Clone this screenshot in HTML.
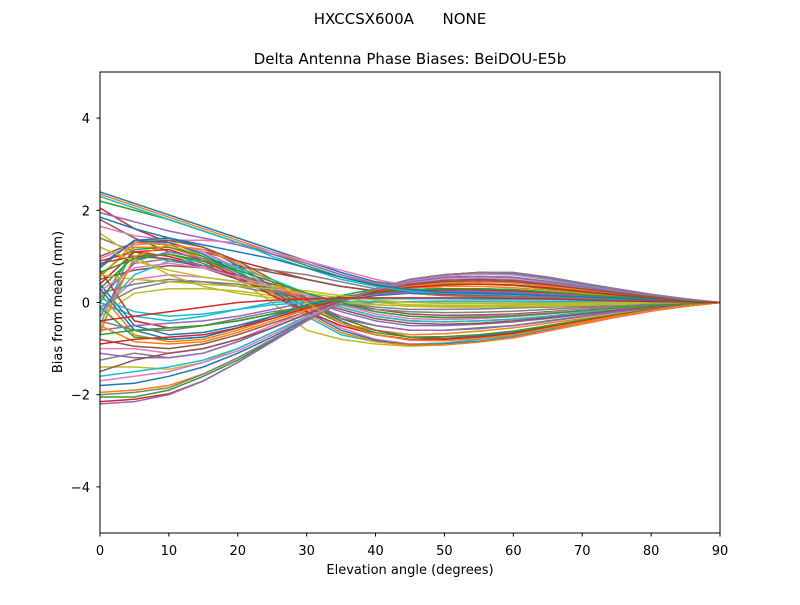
<!DOCTYPE html>
<html><head><meta charset="utf-8"><style>
body{margin:0;background:#fff;font-family:"Liberation Sans","DejaVu Sans",sans-serif}
svg text{font-family:"DejaVu Sans","Liberation Sans",sans-serif;font-size:13px;fill:#000;white-space:pre}
</style></head><body>
<svg id="chart" width="800" height="600" viewBox="0 0 800 600">
<text x="400" y="24" text-anchor="middle" style="font-size:15px">HXCCSX600A&#160;&#160;&#160;&#160;&#160;&#160;NONE</text>
<text x="410" y="64" text-anchor="middle" style="font-size:15px">Delta Antenna Phase Biases: BeiDOU-E5b</text>
<g id="lines"></g>
<rect x="100" y="72" width="620" height="461" fill="none" stroke="#000" stroke-width="1"/>
<g id="axes"></g>
<text x="410" y="574" text-anchor="middle">Elevation angle (degrees)</text>
<text transform="translate(62,302) rotate(-90)" text-anchor="middle">Bias from mean (mm)</text>
</svg>
<script>
const elevations=[0,5,10,15,20,25,30,35,40,45,50,55,60,65,70,75,80,85,90];
const xTicks=[0,10,20,30,40,50,60,70,80,90];
const yTicks=[-4,-2,0,2,4];
const yTickLabels=["\u22124","\u22122","0","2","4"];
const series=[
[2.4,2.15,1.9,1.65,1.4,1.15,0.9,0.65,0.45,0.35,0.3,0.28,0.25,0.22,0.18,0.12,0.08,0.04,0],
[2.35,2.1,1.85,1.6,1.35,1.1,0.85,0.6,0.42,0.3,0.25,0.22,0.2,0.17,0.14,0.1,0.06,0.03,0],
[2.2,2.0,1.8,1.55,1.3,1.05,0.8,0.55,0.38,0.28,0.22,0.2,0.18,0.15,0.12,0.09,0.06,0.03,0],
[2.05,1.6,1.3,1.1,0.9,0.7,0.5,0.35,0.25,0.2,0.18,0.16,0.15,0.13,0.1,0.08,0.05,0.02,0],
[1.95,1.75,1.55,1.4,1.25,1.05,0.85,0.6,0.4,0.3,0.25,0.22,0.2,0.17,0.14,0.1,0.06,0.03,0],
[1.8,1.4,1.1,0.95,0.8,0.65,0.5,0.35,0.25,0.2,0.15,0.13,0.12,0.1,0.08,0.06,0.04,0.02,0],
[1.65,1.45,1.35,1.35,1.3,1.1,0.9,0.7,0.5,0.35,0.3,0.27,0.25,0.22,0.18,0.12,0.08,0.04,0],
[1.4,1.1,0.9,0.8,0.75,0.7,0.6,0.45,0.3,0.2,0.15,0.13,0.12,0.1,0.08,0.06,0.04,0.02,0],
[-0.7,1.35,1.35,1.0,0.5,0.0,-0.6,-0.8,-0.9,-0.95,-0.92,-0.85,-0.75,-0.6,-0.45,-0.3,-0.18,-0.08,0],
[-0.5,1.3,1.3,1.1,0.7,0.2,-0.3,-0.7,-0.85,-0.9,-0.88,-0.8,-0.72,-0.58,-0.44,-0.3,-0.18,-0.08,0],
[0.8,1.35,1.4,1.2,0.8,0.35,0.0,-0.4,-0.7,-0.8,-0.78,-0.72,-0.65,-0.52,-0.4,-0.28,-0.16,-0.07,0],
[0.6,1.2,1.2,0.95,0.6,0.25,-0.1,-0.45,-0.6,-0.7,-0.68,-0.62,-0.55,-0.45,-0.35,-0.25,-0.15,-0.06,0],
[0.3,1.0,1.05,0.85,0.5,0.2,0.0,-0.35,-0.5,-0.6,-0.6,-0.55,-0.5,-0.4,-0.3,-0.2,-0.12,-0.05,0],
[0.9,1.1,1.0,0.8,0.55,0.3,0.1,-0.1,-0.3,-0.4,-0.42,-0.4,-0.36,-0.3,-0.22,-0.15,-0.09,-0.04,0],
[0.1,0.85,0.95,0.8,0.55,0.3,0.05,-0.2,-0.4,-0.5,-0.5,-0.47,-0.42,-0.35,-0.26,-0.18,-0.1,-0.05,0],
[0.5,0.7,0.8,0.75,0.6,0.4,0.2,0.0,-0.15,-0.25,-0.28,-0.27,-0.25,-0.2,-0.15,-0.1,-0.06,-0.03,0],
[-0.2,0.5,0.6,0.55,0.45,0.3,0.15,-0.05,-0.2,-0.3,-0.32,-0.3,-0.27,-0.22,-0.16,-0.11,-0.06,-0.03,0],
[0.2,0.4,0.5,0.45,0.35,0.2,0.1,0.0,-0.1,-0.15,-0.15,-0.14,-0.12,-0.1,-0.08,-0.05,-0.03,-0.01,0],
[-0.3,0.2,0.3,0.3,0.25,0.15,0.05,0.0,-0.05,-0.08,-0.08,-0.07,-0.06,-0.05,-0.04,-0.03,-0.02,-0.01,0],
[0.0,-0.3,-0.4,-0.3,-0.15,0.0,0.05,0.08,0.08,0.08,0.08,0.07,0.07,0.06,0.05,0.04,0.02,0.01,0],
[0.4,-0.5,-0.7,-0.65,-0.5,-0.3,-0.1,0.05,0.15,0.2,0.22,0.22,0.2,0.17,0.13,0.09,0.05,0.02,0],
[0.2,-0.7,-0.85,-0.8,-0.6,-0.35,-0.1,0.1,0.25,0.32,0.35,0.35,0.32,0.27,0.2,0.14,0.08,0.03,0],
[-0.1,-0.75,-0.8,-0.75,-0.55,-0.3,-0.05,0.15,0.3,0.38,0.4,0.4,0.37,0.3,0.23,0.16,0.09,0.04,0],
[0.7,-0.4,-0.55,-0.5,-0.4,-0.25,-0.05,0.1,0.2,0.25,0.28,0.27,0.25,0.21,0.16,0.11,0.06,0.03,0],
[-0.6,-0.5,-0.45,-0.4,-0.3,-0.15,0.0,0.1,0.18,0.22,0.24,0.24,0.22,0.18,0.14,0.1,0.06,0.02,0],
[-0.8,-0.95,-1.0,-0.9,-0.7,-0.45,-0.2,0.05,0.25,0.38,0.45,0.47,0.45,0.38,0.29,0.2,0.12,0.05,0],
[-1.0,-1.0,-1.1,-1.0,-0.8,-0.5,-0.2,0.05,0.28,0.42,0.5,0.52,0.5,0.42,0.32,0.22,0.13,0.05,0],
[-1.25,-1.1,-1.2,-1.1,-0.85,-0.55,-0.25,0.05,0.3,0.45,0.55,0.57,0.55,0.46,0.35,0.24,0.14,0.06,0],
[-1.4,-1.4,-1.45,-1.3,-1.0,-0.65,-0.3,0.02,0.3,0.48,0.58,0.62,0.6,0.5,0.38,0.26,0.15,0.06,0],
[-1.6,-1.5,-1.4,-1.25,-1.0,-0.65,-0.3,0.02,0.3,0.48,0.58,0.62,0.6,0.5,0.38,0.26,0.15,0.06,0],
[-1.8,-1.75,-1.6,-1.4,-1.1,-0.75,-0.35,0.0,0.3,0.5,0.6,0.64,0.62,0.52,0.39,0.27,0.16,0.07,0],
[-1.95,-1.9,-1.8,-1.55,-1.2,-0.8,-0.38,0.0,0.3,0.5,0.6,0.65,0.63,0.53,0.4,0.28,0.16,0.07,0],
[-2.05,-2.05,-1.9,-1.6,-1.25,-0.82,-0.4,0.0,0.3,0.5,0.6,0.65,0.64,0.54,0.41,0.28,0.17,0.07,0],
[-2.15,-2.1,-1.98,-1.7,-1.3,-0.85,-0.4,0.0,0.3,0.5,0.6,0.65,0.65,0.55,0.42,0.29,0.17,0.07,0],
[-2.2,-2.15,-2.0,-1.7,-1.3,-0.85,-0.4,0.0,0.3,0.5,0.6,0.65,0.65,0.55,0.42,0.3,0.18,0.08,0],
[1.0,1.3,1.35,1.2,0.9,0.5,0.1,-0.35,-0.6,-0.75,-0.78,-0.75,-0.68,-0.55,-0.42,-0.29,-0.17,-0.07,0],
[0.95,1.25,1.3,1.1,0.75,0.3,-0.15,-0.55,-0.8,-0.9,-0.9,-0.85,-0.77,-0.62,-0.47,-0.32,-0.19,-0.08,0],
[-0.4,-0.6,-0.6,-0.5,-0.35,-0.2,-0.1,-0.05,0.0,0.02,0.03,0.03,0.03,0.02,0.02,0.01,0.01,0,0],
[1.5,1.0,0.6,0.35,0.2,0.1,0.05,0.0,-0.05,-0.08,-0.1,-0.1,-0.09,-0.08,-0.06,-0.04,-0.03,-0.01,0],
[-0.2,0.6,0.9,0.9,0.75,0.5,0.2,-0.1,-0.3,-0.4,-0.42,-0.4,-0.36,-0.3,-0.22,-0.15,-0.09,-0.04,0],
[0.75,1.35,1.3,1.05,0.65,0.25,-0.2,-0.6,-0.82,-0.92,-0.9,-0.84,-0.75,-0.6,-0.46,-0.31,-0.18,-0.08,0],
[0.55,1.3,1.25,1.0,0.6,0.2,-0.25,-0.65,-0.85,-0.93,-0.92,-0.86,-0.76,-0.61,-0.46,-0.31,-0.18,-0.08,0],
[0.0,1.15,1.2,1.0,0.65,0.3,-0.1,-0.45,-0.65,-0.75,-0.74,-0.7,-0.62,-0.5,-0.38,-0.26,-0.15,-0.06,0],
[0.4,1.1,1.15,0.9,0.55,0.15,-0.2,-0.5,-0.7,-0.8,-0.8,-0.75,-0.67,-0.54,-0.41,-0.28,-0.16,-0.07,0],
[-0.3,0.9,1.1,0.95,0.6,0.3,0.0,-0.3,-0.5,-0.6,-0.6,-0.57,-0.5,-0.41,-0.31,-0.21,-0.12,-0.05,0],
[0.85,1.0,0.95,0.75,0.5,0.25,0.05,-0.15,-0.35,-0.45,-0.47,-0.45,-0.4,-0.33,-0.25,-0.17,-0.1,-0.04,0],
[0.25,0.75,0.85,0.75,0.55,0.35,0.15,-0.05,-0.25,-0.35,-0.37,-0.35,-0.31,-0.25,-0.19,-0.13,-0.07,-0.03,0],
[-0.1,0.3,0.45,0.45,0.4,0.25,0.1,-0.05,-0.15,-0.2,-0.22,-0.21,-0.19,-0.15,-0.11,-0.08,-0.04,-0.02,0],
[0.6,0.5,0.45,0.4,0.35,0.3,0.2,0.1,0.0,-0.05,-0.06,-0.06,-0.05,-0.04,-0.03,-0.02,-0.01,0,0],
[0.1,-0.2,-0.3,-0.25,-0.15,-0.05,0.0,0.02,0.02,0.02,0.02,0.02,0.02,0.01,0.01,0.01,0,0,0],
[0.3,-0.6,-0.8,-0.75,-0.55,-0.3,-0.05,0.12,0.22,0.28,0.3,0.3,0.28,0.23,0.17,0.12,0.07,0.03,0],
[-0.5,-0.85,-0.9,-0.85,-0.65,-0.4,-0.15,0.08,0.25,0.35,0.42,0.44,0.42,0.35,0.27,0.18,0.11,0.05,0],
[-0.7,-0.6,-0.55,-0.5,-0.4,-0.25,-0.08,0.08,0.2,0.28,0.3,0.3,0.28,0.23,0.17,0.12,0.07,0.03,0],
[-0.9,-0.8,-0.75,-0.7,-0.55,-0.35,-0.12,0.05,0.22,0.33,0.38,0.4,0.38,0.32,0.24,0.17,0.1,0.04,0],
[-1.1,-1.2,-1.2,-1.1,-0.85,-0.55,-0.25,0.05,0.3,0.45,0.54,0.56,0.54,0.45,0.34,0.23,0.14,0.06,0],
[-1.5,-1.25,-1.1,-1.0,-0.8,-0.55,-0.25,0.02,0.25,0.4,0.48,0.5,0.48,0.4,0.3,0.21,0.12,0.05,0],
[-1.7,-1.6,-1.5,-1.3,-1.05,-0.7,-0.32,0.0,0.3,0.48,0.58,0.62,0.61,0.51,0.39,0.27,0.16,0.07,0],
[-2.0,-1.95,-1.85,-1.55,-1.2,-0.8,-0.38,0.0,0.3,0.5,0.6,0.65,0.63,0.53,0.4,0.28,0.16,0.07,0],
[1.2,0.9,0.7,0.55,0.45,0.35,0.25,0.15,0.05,0.0,-0.02,-0.02,-0.02,-0.02,-0.01,-0.01,0,0,0],
[2.3,2.05,1.8,1.55,1.3,1.0,0.75,0.5,0.35,0.25,0.2,0.18,0.16,0.14,0.11,0.08,0.05,0.02,0],
[1.85,1.6,1.4,1.25,1.1,0.95,0.75,0.55,0.38,0.28,0.22,0.2,0.18,0.15,0.12,0.09,0.05,0.02,0],
[-0.6,1.0,1.25,1.15,0.85,0.45,0.0,-0.45,-0.7,-0.82,-0.83,-0.78,-0.7,-0.56,-0.43,-0.29,-0.17,-0.07,0],
[0.65,0.95,1.05,0.9,0.7,0.45,0.2,0.0,-0.2,-0.3,-0.33,-0.32,-0.29,-0.24,-0.18,-0.12,-0.07,-0.03,0],
[-0.4,-0.3,-0.2,-0.1,0.0,0.05,0.08,0.1,0.1,0.1,0.1,0.1,0.09,0.08,0.06,0.04,0.02,0.01,0]
];
const colors=["#1f77b4","#ff7f0e","#2ca02c","#d62728","#9467bd","#8c564b","#e377c2","#7f7f7f","#bcbd22","#17becf"];
const X=v=>100+v/90*620;
const Y=v=>302.5-v*46.1;
const NS="http://www.w3.org/2000/svg";
const lg=document.getElementById('lines');
series.forEach((s,i)=>{
  const p=document.createElementNS(NS,'polyline');
  p.setAttribute('points',s.map((v,j)=>X(elevations[j]).toFixed(1)+','+Y(v).toFixed(1)).join(' '));
  p.setAttribute('fill','none');
  p.setAttribute('stroke',colors[i%10]);
  p.setAttribute('stroke-width','1.5');
  
  
  lg.appendChild(p);
});
const ax=document.getElementById('axes');
xTicks.forEach(t=>{
  const l=document.createElementNS(NS,'line');
  l.setAttribute('x1',X(t));l.setAttribute('x2',X(t));l.setAttribute('y1',533);l.setAttribute('y2',536.5);l.setAttribute('stroke','#000');
  
  
  ax.appendChild(l);
  const tx=document.createElementNS(NS,'text');
  tx.setAttribute('x',X(t));tx.setAttribute('y',555);tx.setAttribute('text-anchor','middle');tx.textContent=t;
  
  
  ax.appendChild(tx);
});
yTicks.forEach((t,i)=>{
  const l=document.createElementNS(NS,'line');
  l.setAttribute('x1',96.5);l.setAttribute('x2',100);l.setAttribute('y1',Y(t));l.setAttribute('y2',Y(t));l.setAttribute('stroke','#000');
  
  
  ax.appendChild(l);
  const tx=document.createElementNS(NS,'text');
  tx.setAttribute('x',90);tx.setAttribute('y',Y(t)+5);tx.setAttribute('text-anchor','end');tx.textContent=yTickLabels[i];
  
  
  ax.appendChild(tx);
});
</script>
</body></html>
